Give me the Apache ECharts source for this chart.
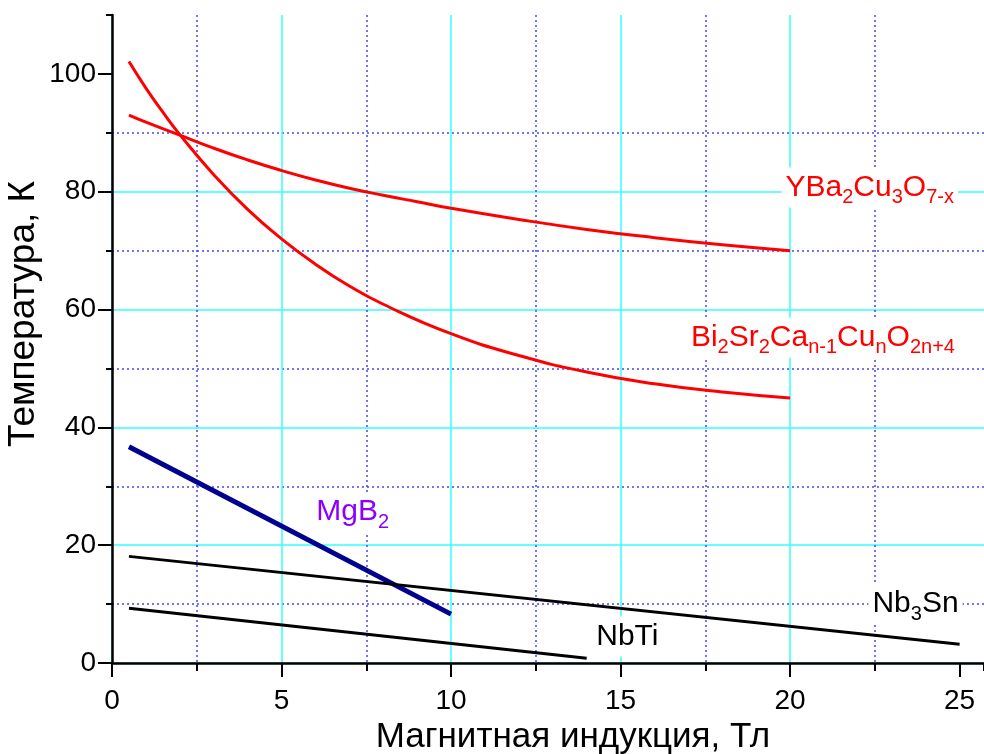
<!DOCTYPE html>
<html>
<head>
<meta charset="utf-8">
<script src="https://cdn.jsdelivr.net/npm/echarts@6/dist/echarts.min.js"></script>
<style>
html,body{margin:0;padding:0;background:#fff;}
#chart{width:984px;height:754px;}
</style>
</head>
<body>
<div id="chart"></div>
<script>
// ---- data ----
const xTitle = 'Магнитная индукция, Тл';
const yTitle = 'Температура, К';
const xMajorTicks = [0, 5, 10, 15, 20, 25];
const yMajorTicks = [0, 20, 40, 60, 80, 100];

const ybcoX = [0.5, 1, 2, 3, 4, 5, 6, 7, 8, 9, 10, 12, 14, 16, 18, 20];
const ybcoY = [93.0, 91.8, 89.6, 87.4, 85.4, 83.6, 82.0, 80.6, 79.4, 78.3, 77.2, 75.3, 73.6, 72.2, 71.0, 70.0];

const bsccoX = [0.5, 1, 1.5, 2, 3, 4, 5, 6, 7, 8, 10, 12, 14, 16, 18, 20];
const bsccoY = [102.1, 97.6, 93.5, 89.7, 82.9, 77.0, 72.0, 67.7, 64.0, 60.9, 55.9, 52.2, 49.4, 47.4, 46.0, 45.0];

const mgb2X = [0.5, 10];
const mgb2Y = [36.7, 8.3];

const nb3snX = [0.5, 25];
const nb3snY = [18.1, 3.2];

const nbtiX = [0.5, 14];
const nbtiY = [9.3, 0.8];

// label anchor points (data coordinates)
const ybcoLabel = [22.35, 80.7];
const bsccoLabel = [20.97, 55.2];
const mgb2Label = [7.1, 25.6];
const nb3snLabel = [23.7, 10.0];
const nbtiLabel = [15.2, 4.5];

const xMax = 25.72;
const yMax = 110;

// ---- build ----
function pairs(xs, ys) { return xs.map((x, i) => [x, ys[i]]); }

const fontFam = 'Liberation Sans, Arial, sans-serif';

const richFor = (color) => ({
  m: { fontSize: 30, lineHeight: 40, color: color, fontFamily: fontFam },
  s: { fontSize: 20, lineHeight: 14, verticalAlign: 'bottom', color: color, fontFamily: fontFam }
});

function labelPoint(coord, text, color) {
  return {
    symbol: 'circle',
    symbolSize: 1,
    silent: true,
    itemStyle: { color: 'rgba(0,0,0,0)' },
    label: {
      show: true,
      position: 'inside',
      formatter: text,
      backgroundColor: '#fff',
      padding: [0, 4, 0, 4],
      rich: richFor(color)
    },
    data: [{ coord: coord }]
  };
}

const option = {
  animation: false,
  backgroundColor: '#fff',
  grid: { left: 112, right: 0, top: 15, bottom: 91, containLabel: false, outerBoundsMode: 'none' },
  xAxis: [
    {
      type: 'value', min: 0, max: xMax, interval: 2.5, position: 'bottom',
      axisLine: { show: false },
      axisLabel: { show: false },
      axisTick: { show: true, length: 8, lineStyle: { color: '#000', width: 2 } },
      splitLine: { show: true, showMaxLine: false, lineStyle: { color: ['rgba(0,0,0,0)', '#4444ff'], type: [2, 3], width: 1.5 } }
    },
    {
      type: 'value', min: 0, max: xMax, interval: 5, position: 'bottom',
      name: xTitle, nameLocation: 'middle', nameGap: 57,
      nameTextStyle: { fontSize: 35, color: '#000', fontFamily: fontFam, padding: [0, 0, 0, 50] },
      axisLine: { show: true, onZero: false, lineStyle: { color: '#000', width: 2.5 } },
      axisTick: { show: true, length: 14, customValues: xMajorTicks, lineStyle: { color: '#000', width: 2 } },
      axisLabel: { show: true, customValues: xMajorTicks, fontSize: 28, color: '#000', margin: 24, fontFamily: fontFam },
      splitLine: { show: true, showMaxLine: false, lineStyle: { color: '#33ffff', width: 1.5, type: 'solid' } }
    }
  ],
  yAxis: [
    {
      type: 'value', min: 0, max: yMax, interval: 10, position: 'left',
      axisLine: { show: false },
      axisLabel: { show: false },
      axisTick: { show: true, length: 6, lineStyle: { color: '#000', width: 2 } },
      splitLine: { show: true, showMaxLine: false, lineStyle: { color: ['rgba(0,0,0,0)', '#4444ff'], type: [2, 3], width: 1.5 } }
    },
    {
      type: 'value', min: 0, max: yMax, interval: 20, position: 'left',
      name: yTitle, nameLocation: 'middle', nameGap: 70, nameMoveOverlap: false,
      nameTextStyle: { fontSize: 37, color: '#000', fontFamily: fontFam, padding: [0, 0, 0, 50] },
      axisLine: { show: true, onZero: false, lineStyle: { color: '#000', width: 2.5 } },
      axisTick: { show: true, length: 14, customValues: yMajorTicks, lineStyle: { color: '#000', width: 2 } },
      axisLabel: { show: true, customValues: yMajorTicks, fontSize: 28, color: '#000', margin: 16, fontFamily: fontFam },
      splitLine: { show: true, showMaxLine: false, lineStyle: { color: '#33ffff', width: 1.5, type: 'solid' } }
    }
  ],
  series: [
    {
      type: 'line', name: 'YBCO', smooth: true, showSymbol: false, xAxisIndex: 1, yAxisIndex: 1,
      data: pairs(ybcoX, ybcoY), lineStyle: { color: '#ff0000', width: 3 }, z: 5,
      markPoint: labelPoint(ybcoLabel, '{m|YBa}{s|2}{m|Cu}{s|3}{m|O}{s|7-x}', '#ff0000')
    },
    {
      type: 'line', name: 'BSCCO', smooth: true, showSymbol: false, xAxisIndex: 1, yAxisIndex: 1,
      data: pairs(bsccoX, bsccoY), lineStyle: { color: '#ff0000', width: 3 }, z: 5,
      markPoint: labelPoint(bsccoLabel, '{m|Bi}{s|2}{m|Sr}{s|2}{m|Ca}{s|n-1}{m|Cu}{s|n}{m|O}{s|2n+4}', '#ff0000')
    },
    {
      type: 'line', name: 'MgB2', showSymbol: false, xAxisIndex: 1, yAxisIndex: 1,
      data: pairs(mgb2X, mgb2Y), lineStyle: { color: '#000090', width: 5 }, z: 5,
      markPoint: labelPoint(mgb2Label, '{m|MgB}{s|2}', '#8c00ff')
    },
    {
      type: 'line', name: 'Nb3Sn', showSymbol: false, xAxisIndex: 1, yAxisIndex: 1,
      data: pairs(nb3snX, nb3snY), lineStyle: { color: '#000', width: 3 }, z: 5,
      markPoint: labelPoint(nb3snLabel, '{m|Nb}{s|3}{m|Sn}', '#000')
    },
    {
      type: 'line', name: 'NbTi', showSymbol: false, xAxisIndex: 1, yAxisIndex: 1,
      data: pairs(nbtiX, nbtiY), lineStyle: { color: '#000', width: 3 }, z: 5,
      markPoint: labelPoint(nbtiLabel, '{m|NbTi}', '#000')
    }
  ]
};

const chart = echarts.init(document.getElementById('chart'), null, { renderer: 'canvas' });
chart.setOption(option);
</script>
</body>
</html>
